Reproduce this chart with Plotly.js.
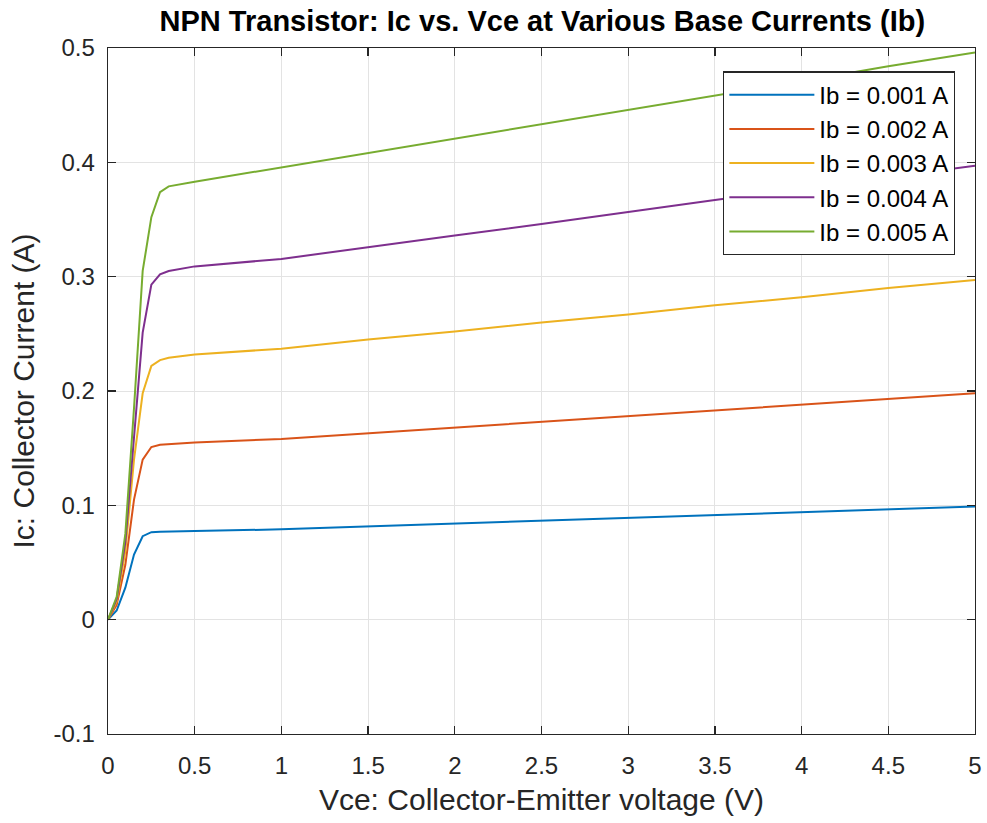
<!DOCTYPE html>
<html>
<head>
<meta charset="utf-8">
<script src="https://cdn.plot.ly/plotly-3.0.1.min.js"></script>
<style>html,body{margin:0;padding:0;background:#fff;}#chart{width:987px;height:823px;}</style>
</head>
<body>
<div id="chart"></div>
<script>
const vce = [0, 0.05, 0.1, 0.15, 0.2, 0.25, 0.3, 0.35, 0.5, 1, 1.5, 2, 2.5, 3, 3.5, 4, 4.5, 5];
const ic1 = [0, 0.008, 0.028, 0.057, 0.073, 0.0765, 0.077, 0.0772, 0.0775, 0.079, 0.0815, 0.084, 0.0865, 0.089, 0.0915, 0.094, 0.0965, 0.099];
const ic2 = [0, 0.013, 0.048, 0.105, 0.140, 0.151, 0.153, 0.1535, 0.155, 0.158, 0.163, 0.168, 0.173, 0.178, 0.183, 0.188, 0.193, 0.198];
const ic3 = [0, 0.016, 0.060, 0.140, 0.198, 0.222, 0.227, 0.229, 0.232, 0.237, 0.245, 0.252, 0.260, 0.267, 0.275, 0.282, 0.290, 0.297];
const ic4 = [0, 0.018, 0.068, 0.160, 0.251, 0.293, 0.302, 0.305, 0.309, 0.3155, 0.326, 0.336, 0.346, 0.3566, 0.367, 0.377, 0.387, 0.397];
const ic5 = [0, 0.020, 0.075, 0.185, 0.305, 0.352, 0.374, 0.379, 0.383, 0.3956, 0.408, 0.4207, 0.433, 0.4458, 0.458, 0.471, 0.484, 0.496];
const seriesNames = ['Ib = 0.001 A', 'Ib = 0.002 A', 'Ib = 0.003 A', 'Ib = 0.004 A', 'Ib = 0.005 A'];
const seriesColors = ['#0072BD', '#D95319', '#EDB120', '#7E2F8E', '#77AC30'];
const xTickVals = [0, 0.5, 1, 1.5, 2, 2.5, 3, 3.5, 4, 4.5, 5];
const xTickLabels = ['0', '0.5', '1', '1.5', '2', '2.5', '3', '3.5', '4', '4.5', '5'];
const yTickVals = [-0.1, 0, 0.1, 0.2, 0.3, 0.4, 0.5];
const yTickLabels = ['-0.1', '0', '0.1', '0.2', '0.3', '0.4', '0.5'];

const allIc = [ic1, ic2, ic3, ic4, ic5];
const traces = allIc.map((ic, i) => ({
  x: vce, y: ic, type: 'scatter', mode: 'lines',
  name: seriesNames[i], legendgroup: 'g' + i,
  line: {color: seriesColors[i], width: 2}
}));

const FONT = 'Liberation Sans, Arial, Helvetica, sans-serif';
const axisCommon = {
  showgrid: true, gridcolor: '#e3e3e3', gridwidth: 1,
  showline: true, linecolor: '#262626', linewidth: 1.3, mirror: 'ticks',
  ticks: 'inside', ticklen: 8, tickcolor: '#262626', tickwidth: 1.3,
  zeroline: false, tickfont: {family: FONT, size: 24, color: '#262626'},
  tickmode: 'array', automargin: false
};

const layout = {
  width: 987, height: 823,
  margin: {l: 108, r: 12, t: 48, b: 89},
  paper_bgcolor: '#ffffff', plot_bgcolor: '#ffffff',
  font: {family: FONT, color: '#262626'},
  title: {text: '<b>NPN Transistor: Ic vs. Vce at Various Base Currents (Ib)</b>',
    font: {family: FONT, size: 29, color: '#000000'}, x: 0.5495, xanchor: 'center', y: 0.975, yanchor: 'middle'},
  xaxis: Object.assign({}, axisCommon, {
    range: [0, 5], tickvals: xTickVals, ticktext: xTickLabels, ticklabelstandoff: 10,
    title: {text: 'Vce: Collector-Emitter voltage (V)', font: {family: FONT, size: 30, color: '#262626'}, standoff: 11}
  }),
  yaxis: Object.assign({}, axisCommon, {
    range: [-0.1, 0.5], tickvals: yTickVals, ticktext: yTickLabels, ticklabelstandoff: 7,
    title: {text: 'Ic: Collector Current (A)', font: {family: FONT, size: 30, color: '#262626'}, standoff: 10}
  }),
  showlegend: true,
  legend: {
    x: 0.977, y: 0.966, xanchor: 'right', yanchor: 'top',
    bgcolor: '#ffffff', bordercolor: '#262626', borderwidth: 1.3,
    font: {family: FONT, size: 24, color: '#000000'}, traceorder: 'grouped', tracegroupgap: 0,
    itemwidth: 85
  }
};

Plotly.newPlot('chart', traces, layout, {displayModeBar: false, staticPlot: true});
</script>
</body>
</html>
